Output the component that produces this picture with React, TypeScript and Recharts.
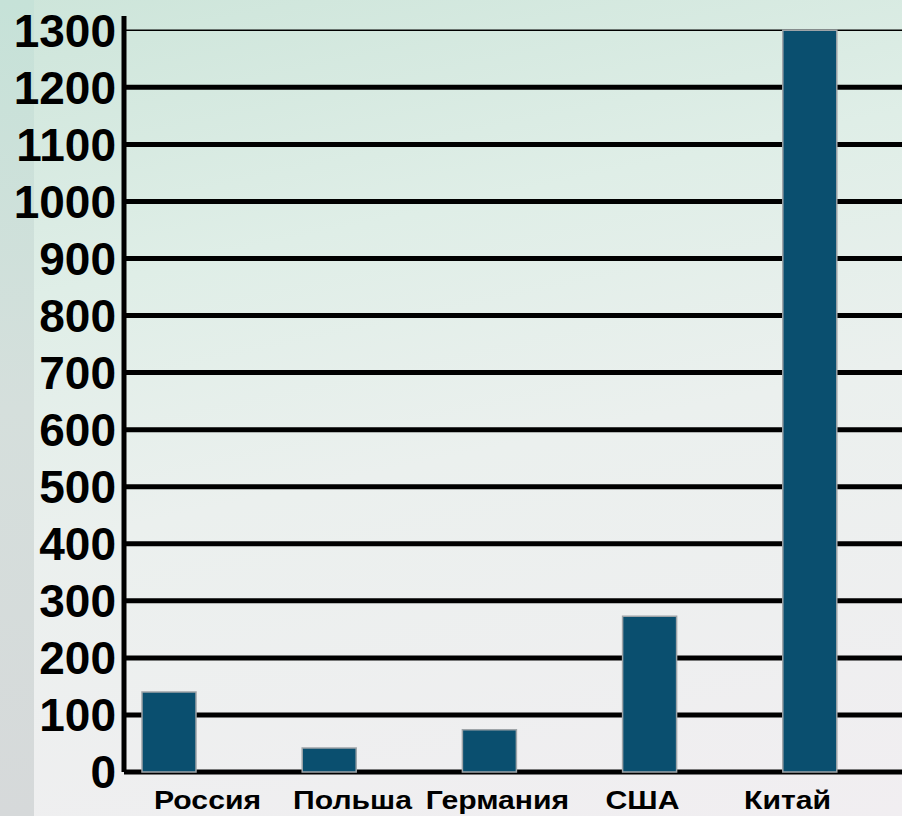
import { BarChart, Bar, XAxis, YAxis, CartesianGrid } from "recharts";

const countries = ["Россия", "Польша", "Германия", "США", "Китай"];
const values = [140, 42, 74, 273, 1300];
const yTicks = [0, 100, 200, 300, 400, 500, 600, 700, 800, 900, 1000, 1100, 1200, 1300];

const data = countries.map((name, i) => ({ name, value: values[i] }));

const CountryTick = (props: any) => {
  const { x, y, payload } = props;
  return (
    <g transform={`translate(${x},${y}) scale(1.16,1)`}>
      <text
        x={0}
        y={37}
        textAnchor="middle"
        fill="#000"
        fontFamily="'Liberation Sans', Arial, sans-serif"
        fontWeight="bold"
        fontSize={26}
      >
        {payload.value}
      </text>
    </g>
  );
};

// top (1300) line is thin, the rest are heavy
const GridLine = (props: any) => {
  const { x1, x2, y1, y2 } = props;
  if (y1 < 22) return null;
  return (
    <line
      x1={x1}
      x2={x2}
      y1={y1}
      y2={y2}
      stroke="#000"
      strokeWidth={y1 < 40 ? 1.5 : 5}
    />
  );
};

const App = () => (
  <div
    style={{
      position: "absolute",
      left: 0,
      top: 0,
      width: 902,
      height: 816,
      overflow: "hidden",
      background:
        "linear-gradient(168deg, #cde5da 0%, #dfeee7 30%, #ebf0ee 55%, #f1eef1 100%)",
    }}
  >
    <div
      style={{
        position: "absolute",
        left: 0,
        top: 0,
        width: 34,
        height: 816,
        background: "linear-gradient(180deg, #c6e2d8 0%, #d5dfdc 50%, #d6d9da 100%)",
      }}
    />
    <div style={{ position: "absolute", left: 0, top: 0 }}>
      <BarChart
        width={902}
        height={816}
        data={data}
        margin={{ top: 16, right: 0, bottom: 0, left: 0 }}
      >
        <CartesianGrid vertical={false} horizontal={<GridLine />} />
        <XAxis
          xAxisId="labels"
          dataKey="name"
          axisLine={false}
          tickLine={false}
          tickSize={0}
          tickMargin={0}
          height={44}
          interval={0}
          padding={{ left: 11, right: 42 }}
          tick={<CountryTick />}
        />
        <XAxis
          xAxisId="bars"
          dataKey="name"
          hide
          height={0}
          padding={{ left: -35, right: 12 }}
        />
        <YAxis
          domain={[0, 1325]}
          ticks={yTicks}
          interval={0}
          width={124}
          tickLine={false}
          tickSize={0}
          tickMargin={8}
          axisLine={{ stroke: "#000", strokeWidth: 5 }}
          tick={{
            fill: "#000",
            fontSize: 46,
            fontWeight: "bold",
            fontFamily: "'Liberation Sans', Arial, sans-serif",
          }}
        />
        <Bar
          xAxisId="bars"
          dataKey="value"
          barSize={54}
          fill="#0a4f6f"
          stroke="#9ea4a8"
          strokeWidth={1.5}
          isAnimationActive={false}
        />
      </BarChart>
    </div>
  </div>
);

export default App;
